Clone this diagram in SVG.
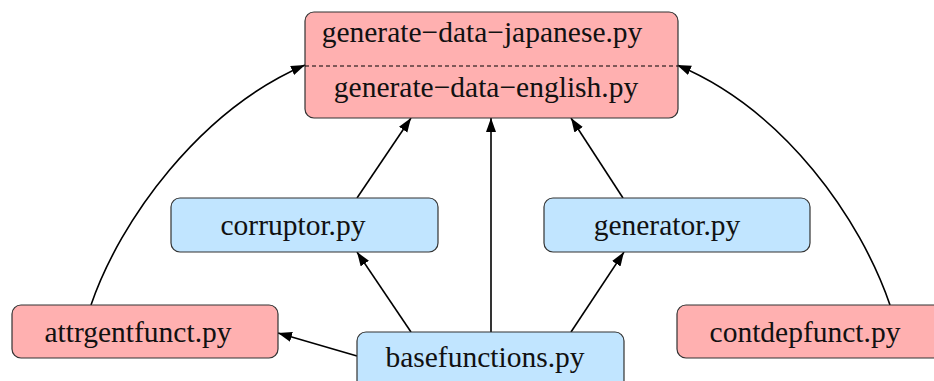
<svg xmlns="http://www.w3.org/2000/svg" width="934" height="381" viewBox="0 0 934 381">
<style>
.pink{fill:#ffb0b0;stroke:#333;stroke-width:1.2}
.blue{fill:#c1e5ff;stroke:#333;stroke-width:1.2}
.t{font-family:'Liberation Serif','Times New Roman','DejaVu Serif',serif;font-size:29.5px;fill:#111;text-anchor:middle}
.e{fill:none;stroke:#000;stroke-width:1.6;marker-end:url(#ah)}
</style>
<defs>
<marker id="ah" markerUnits="userSpaceOnUse" markerWidth="16" markerHeight="12" refX="14" refY="5" orient="auto">
<path d="M0,0 L14,5 L0,10 z" fill="#000"/>
</marker>
</defs>
<rect width="934" height="381" fill="#fff"/>
<g id="connectors">
<path class="e" d="M91,305 C120,220 200,110 305,65"/>
<path class="e" d="M890,305 C861,220 785,110 677,65"/>
<path class="e" d="M357,198 L411,118"/>
<path class="e" d="M623,198 L571,118"/>
<path class="e" d="M491,332 L491,118"/>
<path class="e" d="M411,332 L357,252"/>
<path class="e" d="M571,332 L624,252"/>
<path class="e" d="M357,356 L278,333"/>
</g>
<g id="generate-data">
<rect class="pink" x="305" y="12" width="373" height="106" rx="9"/>
<line x1="305" y1="66" x2="678" y2="66" stroke="#000" stroke-width="1" stroke-dasharray="4,3"/>
<text class="t" x="482" y="42" font-family="Liberation Serif, serif">generate−data−japanese.py</text>
<text class="t" x="486" y="97" font-family="Liberation Serif, serif">generate−data−english.py</text>
</g>
<g id="corruptor">
<rect class="blue" x="171" y="198" width="267" height="54" rx="9"/>
<text class="t" x="293" y="235" font-family="Liberation Serif, serif">corruptor.py</text>
</g>
<g id="generator">
<rect class="blue" x="544" y="198" width="266" height="54" rx="9"/>
<text class="t" x="667" y="235" font-family="Liberation Serif, serif">generator.py</text>
</g>
<g id="attrgentfunct">
<rect class="pink" x="12" y="305" width="266" height="53" rx="9"/>
<text class="t" x="138" y="342" font-family="Liberation Serif, serif">attrgentfunct.py</text>
</g>
<g id="basefunctions">
<rect class="blue" x="357" y="332" width="267" height="60" rx="9"/>
<text class="t" x="485" y="367" font-family="Liberation Serif, serif">basefunctions.py</text>
</g>
<g id="contdepfunct">
<rect class="pink" x="677" y="305" width="270" height="53" rx="9"/>
<text class="t" x="805" y="342" font-family="Liberation Serif, serif">contdepfunct.py</text>
</g>
</svg>
